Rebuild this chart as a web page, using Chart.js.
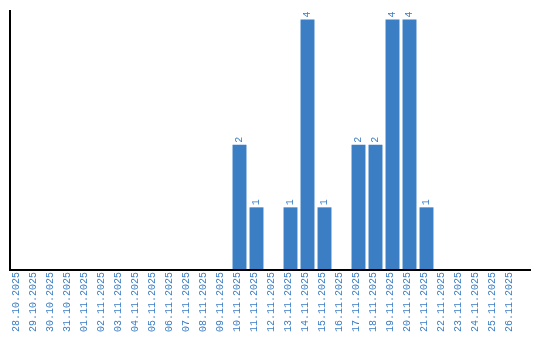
<!DOCTYPE html>
<html><head><meta charset="utf-8">
<script src="https://cdn.jsdelivr.net/npm/chart.js@4"></script>
<style>html,body{margin:0;padding:0;background:#fff}#w{width:540px;height:340px}</style>
</head><body><div id="w"><canvas id="c"></canvas></div>
<script>
const categories = ["28.10.2025","29.10.2025","30.10.2025","31.10.2025","01.11.2025","02.11.2025","03.11.2025","04.11.2025","05.11.2025","06.11.2025","07.11.2025","08.11.2025","09.11.2025","10.11.2025","11.11.2025","12.11.2025","13.11.2025","14.11.2025","15.11.2025","16.11.2025","17.11.2025","18.11.2025","19.11.2025","20.11.2025","21.11.2025","22.11.2025","23.11.2025","24.11.2025","25.11.2025","26.11.2025"];
const counts = [0,0,0,0,0,0,0,0,0,0,0,0,0,2,1,0,1,4,1,0,2,2,4,4,1,0,0,0,0,0];
const BLUE = '#3b7ec4';
const FONT = "'Liberation Mono', 'DejaVu Sans Mono', monospace";

const extras = {
  id: 'extras',
  afterDatasetsDraw(chart) {
    const ctx = chart.ctx, a = chart.chartArea;
    ctx.save();
    ctx.strokeStyle = '#000';
    ctx.lineWidth = 2;
    ctx.beginPath();
    ctx.moveTo(a.left, a.top);
    ctx.lineTo(a.left, a.bottom);
    ctx.lineTo(a.right + 11, a.bottom);
    ctx.stroke();
    const meta = chart.getDatasetMeta(0);
    ctx.fillStyle = BLUE;
    ctx.font = '10px ' + FONT;
    ctx.textAlign = 'left';
    ctx.textBaseline = 'middle';
    meta.data.forEach((bar, i) => {
      const v = counts[i];
      if (!v) return;
      ctx.save();
      ctx.translate(bar.x, bar.y - 2);
      ctx.rotate(-Math.PI / 2);
      ctx.fillText(String(v), 0, 0);
      ctx.restore();
    });
    ctx.restore();
  }
};

new Chart(document.getElementById('c'), {
  type: 'bar',
  data: { labels: categories, datasets: [{ data: counts, backgroundColor: BLUE, borderWidth: 0, categoryPercentage: 1, barPercentage: 0.82 }] },
  options: {
    responsive: true, maintainAspectRatio: false, animation: false,
    layout: { padding: { left: 10, top: 10, right: 20, bottom: 0 } },
    plugins: { legend: { display: false }, tooltip: { enabled: false } },
    scales: {
      x: {
        grid: { display: false }, border: { display: false },
        ticks: { minRotation: 90, maxRotation: 90, autoSkip: false, padding: -6, labelOffset: -2, color: BLUE, font: { family: FONT, size: 10 } },
        afterFit(s) { s.height = 70; }
      },
      y: { display: false, min: 0, max: 4.15 }
    }
  },
  plugins: [extras]
});
</script></body></html>
